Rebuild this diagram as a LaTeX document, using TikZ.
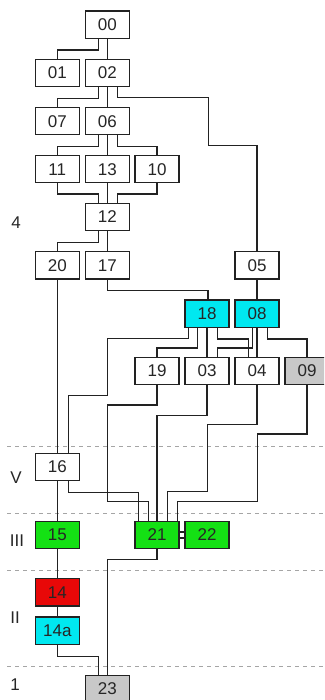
\documentclass[tikz,border=0pt]{standalone}
\usepackage{fontspec}
\setmainfont{Liberation Sans}
\usetikzlibrary{calc}
\definecolor{cy}{RGB}{0,232,240}
\definecolor{gr}{RGB}{20,225,20}
\definecolor{rd}{RGB}{232,8,8}
\definecolor{gy}{RGB}{200,200,200}
\definecolor{ln}{RGB}{34,34,34}
\definecolor{dl}{RGB}{165,165,165}
\tikzset{
  box/.style={draw=ln, line width=1.3pt, fill=white, minimum width=44pt, minimum height=27.3pt, inner sep=0pt, font=\fontsize{17}{18}\selectfont, text=black!85},
  conn/.style={draw=ln, line width=1.3pt},
  sep/.style={draw=dl, line width=1pt, dash pattern=on 4pt off 4pt},
  lvl/.style={font=\fontsize{17}{18}\selectfont, text=black!85, inner sep=0pt}
}
\begin{document}
\begin{tikzpicture}[x=1pt,y=-1pt]
\useasboundingbox (0,0) rectangle (324,700);
\clip (0,0) rectangle (324,700);
% separators
\draw[sep] (7,446) -- (324,446);
\draw[sep] (7,513) -- (324,513);
\draw[sep] (7,570.5) -- (324,570.5);
\draw[sep] (7,666.7) -- (324,666.7);
% level labels
\node[lvl] (l4) at (16,223) {4};
\node[lvl] (lV) at (16,478) {V};
\node[lvl] (lIII) at (17,541) {III};
\node[lvl] (lII) at (15,618) {II};
\node[lvl] (l1) at (15,685) {1};
% nodes
\node[box] (n00) at (107.3,24.7) {00};
\node[box] (n01) at (57.3,73) {01};
\node[box] (n02) at (107.3,73) {02};
\node[box] (n07) at (57.3,121.2) {07};
\node[box] (n06) at (107.3,121.2) {06};
\node[box] (n11) at (57.3,169.2) {11};
\node[box] (n13) at (107.3,169.2) {13};
\node[box] (n10) at (157,169.2) {10};
\node[box] (n12) at (107.3,217) {12};
\node[box] (n20) at (57.3,265.3) {20};
\node[box] (n17) at (107.3,265.3) {17};
\node[box] (n05) at (257,265.3) {05};
\node[box, fill=cy] (n18) at (207,313.7) {18};
\node[box, fill=cy] (n08) at (257,313.7) {08};
\node[box] (n19) at (157,371) {19};
\node[box] (n03) at (207,371) {03};
\node[box] (n04) at (257,371) {04};
\node[box, fill=gy] (n09) at (307,371) {09};
\node[box] (n16) at (57.3,467) {16};
\node[box, fill=gr] (n15) at (57.3,535) {15};
\node[box, fill=gr] (n21) at (157,535) {21};
\node[box, fill=gr] (n22) at (207,535) {22};
\node[box, fill=rd] (n14) at (57.3,592.3) {14};
\node[box, fill=cy] (n14a) at (57.3,630.5) {14a};
\node[box, fill=gy] (n23) at (107.3,689) {23};
% connectors
\draw[conn] ([xshift=-9pt]n00.south) -- ++(0,11) -| (n01.north);
\draw[conn] (n00.south) -- (n02.north);
\draw[conn] ([xshift=-9pt]n02.south) -- ++(0,11) -| (n07.north);
\draw[conn] (n02.south) -- (n06.north);
\draw[conn] ([xshift=10pt]n02.south) -- (117.3,97.7) -- (208.3,97.7) -- (208.3,145.7) -- (257,145.7) -- (n05.north);
\draw[conn] ([xshift=-9pt]n06.south) -- ++(0,11) -| (n11.north);
\draw[conn] (n06.south) -- (n13.north);
\draw[conn] ([xshift=10pt]n06.south) -- ++(0,11) -| (n10.north);
\draw[conn] (n11.south) -- ++(0,10.5) -| ([xshift=-9pt]n12.north);
\draw[conn] (n13.south) -- (n12.north);
\draw[conn] (n10.south) -- ++(0,10.5) -| ([xshift=10pt]n12.north);
\draw[conn] ([xshift=-9pt]n12.south) -- ++(0,11) -| (n20.north);
\draw[conn] (n12.south) -- (n17.north);
\draw[conn] (n17.south) -- ++(0,11) -| ([xshift=1pt]n18.north);
\draw[conn] (n05.south) -- (n08.north);
\draw[conn] (n20.south) -- (n16.north);
\draw[conn] ([xshift=-18.7pt]n18.south) -- (188.3,338.3) -- (107.7,338.3) -- (107.7,395.7) -- (68.3,395.7) -- ([xshift=11pt]n16.north);
\draw[conn] ([xshift=-9.7pt]n18.south) -- ++(0,20) -| (n19.north);
\draw[conn] (n18.south) -- (n03.north);
\draw[conn] ([xshift=10.3pt]n18.south) -- ++(0,11) -| ([xshift=-8.7pt]n04.north);
\draw[conn] ([xshift=-4.7pt]n08.south) -- ++(0,20) -| ([xshift=10.3pt]n03.north);
\draw[conn] (n08.south) -- (n04.north);
\draw[conn] ([xshift=10.3pt]n08.south) -- ++(0,11) -| (n09.north);
\draw[conn] (n19.south) -- (157,405) -- (107.7,405) -- (107.7,501.7) -- (148.3,501.7) -- ([xshift=-8.7pt]n21.north);
\draw[conn] (n03.south) -- ++(0,30.3) -| (n21.north);
\draw[conn] (n04.south) -- (257,424.3) -- (207.7,424.3) -- (207.7,491.7) -- (167.3,491.7) -- ([xshift=10.3pt]n21.north);
\draw[conn] (n09.south) -- (307,434) -- (257.3,434) -- (257.3,501.7) -- (177.3,501.7) -- ([xshift=20.3pt]n21.north);
\draw[conn] (n16.south) -- (n15.north);
\draw[conn] ([xshift=11pt]n16.south) -- ++(0,11) -| ([xshift=-18.7pt]n21.north);
\draw[conn] ([yshift=3pt]n21.east) -- ([yshift=3pt]n22.west);
\draw[conn] ([yshift=-3pt]n21.east) -- ([yshift=-3pt]n22.west);
\draw[conn] (n15.south) -- (n14.north);
\draw[conn] (n14.south) -- (n14a.north);
\draw[conn] (n14a.south) -- ++(0,11.5) -| ([xshift=-9pt]n23.north);
\draw[conn] (n21.south) -- ++(0,10.3) -| (n23.north);
\end{tikzpicture}
\end{document}
